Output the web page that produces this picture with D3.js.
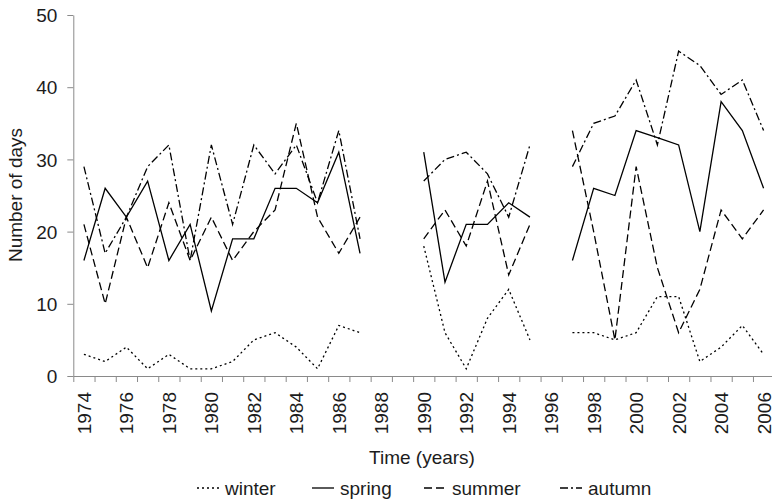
<!DOCTYPE html>
<html><head><meta charset="utf-8">
<script src="https://cdn.jsdelivr.net/npm/d3@7"></script>
<style>
html,body{margin:0;padding:0;background:#fff;}
svg{display:block;font-family:Arial,"Liberation Sans",sans-serif;}
</style></head>
<body><svg id="c" width="772" height="499"></svg>
<script>
const years = d3.range(1974, 2007);
const winter = [3,2,4,1,3,1,1,2,5,6,4,1,7,6, null,null, 18,6,1,8,12,5, null, 6,6,5,6,11,11,2,4,7,3];
const spring = [16,26,22,27,16,21,9,19,19,26,26,24,31,17, null,null, 31,13,21,21,24,22, null, 16,26,25,34,33,32,20,38,34,26];
const summer = [21,10,22,15,24,16,22,16,20,23,35,22,17,22, null,null, 19,23,18,27,14,21, null, 34,20,5,29,15,6,12,23,19,23];
const autumn = [29,17,22,29,32,16,32,21,32,28,32,24,34,19, null,null, 27,30,31,28,22,32, null, 29,35,36,41,32,45,43,39,41,34];
const yTicks = [0,10,20,30,40,50];
const xLabelYears = d3.range(1974, 2007, 2);
const seriesNames = ["winter","spring","summer","autumn"];
const seriesData = [winter, spring, summer, autumn];
const dashes = ["2,3", null, "8,4", "8,3,2,3"];

const svg = d3.select("#c");
const x = d3.scaleLinear().domain([1973.5, 2006.5]).range([73.3, 774.2]);
const y = d3.scaleLinear().domain([0, 50]).range([376, 15]);
const axisColor = "#8a8a8a";
const textColor = "#1c1c1c";

// Y axis
const gy = svg.append("g").attr("transform", "translate(73.3,0)")
  .call(d3.axisLeft(y).tickValues(yTicks).tickSize(6).tickSizeOuter(0).tickPadding(10).tickFormat(d3.format("d")));
gy.select(".domain").attr("stroke", axisColor);
gy.selectAll(".tick line").attr("stroke", axisColor);
gy.selectAll(".tick text").attr("fill", textColor).style("font-size", "19px").attr("dy", "0.35em");

// X axis: boundary ticks
const boundaries = d3.range(1973.5, 2007, 1);
const gx = svg.append("g").attr("transform", "translate(0,376)")
  .call(d3.axisBottom(x).tickValues(boundaries).tickSize(6).tickSizeOuter(0).tickFormat(""));
gx.select(".domain").attr("stroke", axisColor);
gx.selectAll(".tick line").attr("stroke", axisColor);

// X labels
const gxl = svg.append("g").attr("transform", "translate(0,376)")
  .call(d3.axisBottom(x).tickValues(xLabelYears).tickSize(0).tickPadding(0).tickFormat(d3.format("d")));
gxl.select(".domain").remove();
gxl.selectAll(".tick text")
  .attr("fill", textColor).style("font-size", "19px")
  .attr("text-anchor", "end").attr("dominant-baseline", "central")
  .attr("transform", "translate(0,16) rotate(-90)").attr("x", 0).attr("y", 0).attr("dy", null);

// Lines
const line = d3.line().defined(d => d.v != null).x(d => x(d.year)).y(d => y(d.v));
seriesData.forEach((arr, i) => {
  const pts = years.map((yr, j) => ({year: yr, v: arr[j]}));
  svg.append("path").datum(pts).attr("d", line)
    .attr("fill", "none").attr("stroke", "#000").attr("stroke-width", 1.3)
    .attr("stroke-dasharray", dashes[i]);
});

// Axis titles
svg.append("text").attr("transform", "translate(15,195) rotate(-90)")
  .attr("text-anchor", "middle").attr("dominant-baseline", "central")
  .attr("fill", textColor).style("font-size", "19px").text("Number of days");
svg.append("text").attr("x", 422).attr("y", 457)
  .attr("text-anchor", "middle").attr("dominant-baseline", "central")
  .attr("fill", textColor).style("font-size", "19px").text("Time (years)");

// Legend
const legX = [197, 312, 424, 560];
const lg = svg.append("g").attr("transform", "translate(0,488)");
seriesNames.forEach((name, i) => {
  lg.append("line").attr("x1", legX[i]).attr("x2", legX[i] + 22).attr("y1", 0).attr("y2", 0)
    .attr("stroke", "#000").attr("stroke-width", 1.3).attr("stroke-dasharray", dashes[i]);
  lg.append("text").attr("x", legX[i] + 28).attr("y", 0).attr("dominant-baseline", "central")
    .attr("fill", textColor).style("font-size", "19px").text(name);
});
</script></body></html>
